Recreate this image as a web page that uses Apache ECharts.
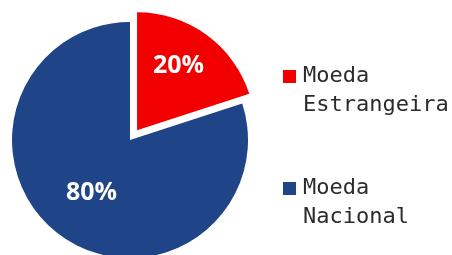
<!DOCTYPE html>
<html>
<head>
<meta charset="utf-8">
<script src="https://cdn.jsdelivr.net/npm/echarts@6/dist/echarts.min.js"></script>
<style>
  html, body { margin: 0; padding: 0; background: #fff; }
  #chart { width: 452px; height: 255px; }
</style>
</head>
<body>
<div id="chart"></div>
<script>
// dados do gráfico
var categories = ["Moeda\nEstrangeira", "Moeda\nNacional"];
var values = [20, 80];
var colors = ["#f20000", "#1f4487"];

// deslocamento dos rótulos dentro das fatias
var labelShift = [[5, -14], [-2, 3]];

var chart = echarts.init(document.getElementById("chart"));

var pieData = categories.map(function (name, i) {
  return {
    name: name,
    value: values[i],
    selected: i === 0,
    itemStyle: { color: colors[i] }
  };
});

var option = {
  animation: false,
  legend: {
    orient: "vertical",
    left: 278,
    top: 28,
    itemWidth: 13,
    itemHeight: 13,
    itemGap: 25,
    icon: "rect",
    selectedMode: false,
    data: categories,
    // linha vazia no início para alinhar o ícone com a primeira linha
    formatter: function (name) {
      return "\n" + name;
    },
    textStyle: {
      fontFamily: "DejaVu Sans Mono",
      fontSize: 22,
      lineHeight: 29,
      color: "#2b2b2b",
      padding: [0, 0, 0, 2]
    }
  },
  series: [
    {
      type: "pie",
      center: [130, 140],
      radius: 118,
      startAngle: 90,
      selectedMode: "single",
      selectedOffset: 12,
      label: {
        show: true,
        position: "inside",
        formatter: "{c}%",
        color: "#fff",
        fontFamily: "Open Sans",
        fontWeight: "bold",
        fontSize: 25
      },
      labelLayout: function (params) {
        var s = labelShift[params.dataIndex];
        return { dx: s[0], dy: s[1] };
      },
      labelLine: { show: false },
      emphasis: { disabled: true },
      data: pieData
    }
  ]
};

chart.setOption(option);
</script>
</body>
</html>
